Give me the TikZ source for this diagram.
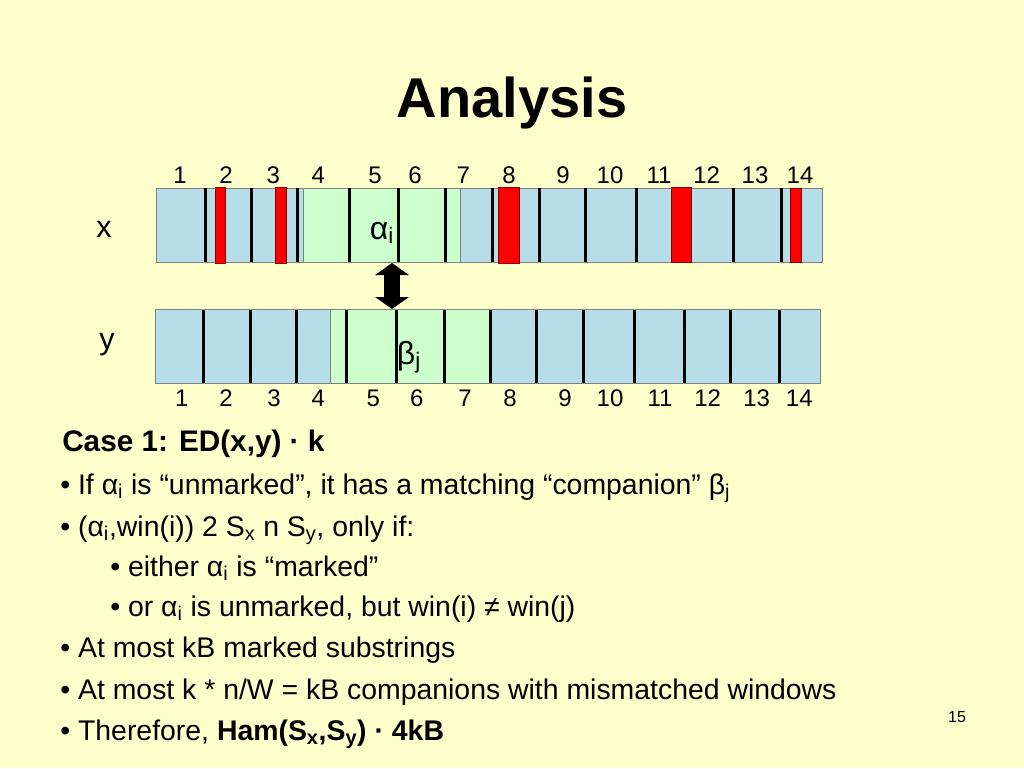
\documentclass[tikz,border=0pt]{standalone}
\usepackage{fontspec}
\setmainfont{Liberation Sans}
\usetikzlibrary{arrows.meta}

\begin{document}
\begin{tikzpicture}[x=0.75pt,y=0.75pt,yscale=-1,xscale=1,
    cellbox/.style={draw={rgb, 255:red, 128; green, 128; blue, 128 }, line width=0.5},
    bluecell/.style={cellbox, fill={rgb, 255:red, 183; green, 221; blue, 232 }},
    greencell/.style={cellbox, fill={rgb, 255:red, 204; green, 255; blue, 204 }},
    markbox/.style={draw={rgb, 255:red, 128; green, 0; blue, 0 }, line width=0.5, fill={rgb, 255:red, 255; green, 0; blue, 0 }},
    sepline/.style={draw=black, line width=2.25},
    numlabel/.style={inner sep=0.75pt, font=\fontsize{18}{21}\selectfont},
    bodytext/.style={anchor=base west, inner sep=0.75pt, font=\fontsize{21.3}{25}\selectfont},
    pairarrow/.style={line width=12, {Triangle[width=25pt,length=9pt]}-{Triangle[width=25pt,length=9pt]}}]

    %Slide background
    \fill [fill={rgb, 255:red, 255; green, 255; blue, 204 }] (0,0) rectangle (1024,768);
    \useasboundingbox (0,0) rectangle (1024,768);

    % Title
    \node (title) [anchor=base, inner sep=0.75pt, font=\bfseries\fontsize{42}{48}\selectfont] at (512,117) {Analysis};

    %Shape: Rectangle [string x]
    \draw [bluecell] (156.7,188) rectangle (822.3,262);
    %Shape: Rectangle [window alpha]
    \draw [greencell] (303.3,188) rectangle (349,262);
    \draw [greencell] (349,188) rectangle (398.3,262);
    \draw [greencell] (398.3,188) rectangle (445.7,262);
    \draw [greencell] (445.7,188) rectangle (460.7,262);
    %Straight Lines [separators x]
    \draw [sepline] (205,188) -- (205,262) (251.7,188) -- (251.7,262) (297.7,188) -- (297.7,262)
        (349,188) -- (349,262) (398.3,188) -- (398.3,262) (445.7,188) -- (445.7,262)
        (492.3,188) -- (492.3,262) (539,188) -- (539,262) (585,188) -- (585,262)
        (636,188) -- (636,262) (733.3,188) -- (733.3,262) (781.7,188) -- (781.7,262) ;
    %Shape: Rectangle [marked]
    \draw [markbox] (215.7,187) rectangle (225.7,263);
    \draw [markbox] (275.7,187) rectangle (286.7,263);
    \draw [markbox] (498.3,187) rectangle (519,263);
    \draw [markbox] (671.7,187) rectangle (691.7,262);
    \draw [markbox] (790,188) rectangle (801.7,262);

    %Shape: Rectangle [string y]
    \draw [bluecell] (155,309.3) rectangle (820,383);
    %Shape: Rectangle [window beta]
    \draw [greencell] (330,309.3) rectangle (346.7,383);
    \draw [greencell] (346.7,309.3) rectangle (396.7,383);
    \draw [greencell] (396.7,309.3) rectangle (444,383);
    \draw [greencell] (444,309.3) rectangle (489.5,383);
    %Straight Lines [separators y]
    \draw [sepline] (203.3,310) -- (203.3,383) (250,310) -- (250,383) (296,310) -- (296,383)
        (346.7,310) -- (346.7,383) (396.7,310) -- (396.7,383) (444,310) -- (444,383)
        (490,310) -- (490,383) (536.7,310) -- (536.7,383) (583.3,310) -- (583.3,383)
        (634.3,310) -- (634.3,383) (684,310) -- (684,383) (730.7,310) -- (730.7,383)
        (779.3,310) -- (779.3,383) ;

    %Double arrow [alpha to beta]
    \coordinate (xwin) at (392,263);
    \coordinate (ywin) at (392,309);
    \draw [pairarrow] (xwin) -- (ywin);

    % Text Node
    \node (xname) [inner sep=0.75pt, font=\fontsize{23}{27}\selectfont] at (104,229) {x};
    % Text Node
    \node (yname) [inner sep=0.75pt, font=\fontsize{23}{27}\selectfont] at (107,345) {y};
    % Text Node
    \node (alpha) [anchor=base, inner sep=0.75pt, font=\fontsize{24}{28}\selectfont] at (382,239) {α\textsubscript{i}};
    % Text Node
    \node (beta) [anchor=base, inner sep=0.75pt, font=\fontsize{24}{28}\selectfont] at (409,364) {β\textsubscript{j}};

    % Index labels, top
    \node (xn1) [numlabel] at (180,175) {1};
    \node (xn2) [numlabel] at (226,175) {2};
    \node (xn3) [numlabel] at (273.3,175) {3};
    \node (xn4) [numlabel] at (318.3,175) {4};
    \node (xn5) [numlabel] at (375,175) {5};
    \node (xn6) [numlabel] at (415,175) {6};
    \node (xn7) [numlabel] at (463.3,175) {7};
    \node (xn8) [numlabel] at (509,175) {8};
    \node (xn9) [numlabel] at (563,175) {9};
    \node (xn10) [numlabel] at (610,175) {10};
    \node (xn11) [numlabel] at (659,175) {11};
    \node (xn12) [numlabel] at (706.7,175) {12};
    \node (xn13) [numlabel] at (755,175) {13};
    \node (xn14) [numlabel] at (800,175) {14};
    % Index labels, bottom
    \node (yn1) [numlabel] at (181.7,398) {1};
    \node (yn2) [numlabel] at (226,398) {2};
    \node (yn3) [numlabel] at (274,398) {3};
    \node (yn4) [numlabel] at (318.3,398) {4};
    \node (yn5) [numlabel] at (373.3,398) {5};
    \node (yn6) [numlabel] at (416.7,398) {6};
    \node (yn7) [numlabel] at (465,398) {7};
    \node (yn8) [numlabel] at (510,398) {8};
    \node (yn9) [numlabel] at (565,398) {9};
    \node (yn10) [numlabel] at (610,398) {10};
    \node (yn11) [numlabel] at (660,398) {11};
    \node (yn12) [numlabel] at (707.7,398) {12};
    \node (yn13) [numlabel] at (756.7,398) {13};
    \node (yn14) [numlabel] at (799.3,398) {14};

    % Text Node
    \node (case) [bodytext, font=\bfseries\fontsize{22.3}{26}\selectfont] at (61,451) {Case 1: ED(x,y) · k};
    \node (pt1) [bodytext] at (59,494) {• If α\textsubscript{i} is “unmarked”, it has a matching “companion” β\textsubscript{j}};
    \node (pt2) [bodytext] at (59,536) {• (α\textsubscript{i},win(i)) 2 S\textsubscript{x} n S\textsubscript{y}, only if:};
    \node (pt3) [bodytext] at (109,576) {• either α\textsubscript{i} is “marked”};
    \node (pt4) [bodytext] at (109,616) {• or α\textsubscript{i} is unmarked, but win(i) ≠ win(j)};
    \node (pt5) [bodytext] at (59,657) {• At most kB marked substrings};
    \node (pt6) [bodytext] at (59,699) {• At most k * n/W = kB companions with mismatched windows};
    \node (pt7) [bodytext] at (59,740) {• Therefore, \textbf{Ham(S\textsubscript{x},S\textsubscript{y}) · 4kB}};
    % Text Node
    \node (pagenum) [inner sep=0.75pt, font=\fontsize{12}{14}\selectfont] at (957,717) {15};

\end{tikzpicture}
\end{document}
